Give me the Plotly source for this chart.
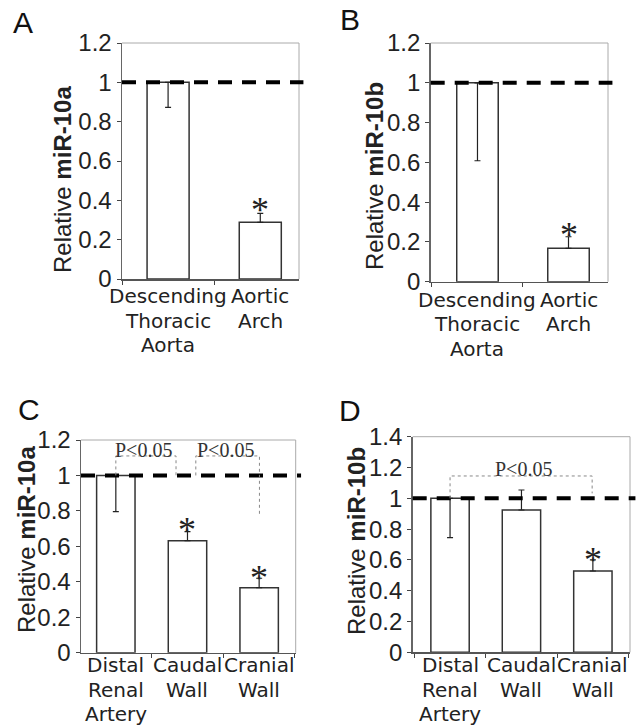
import plotly.graph_objects as go

# ---------------- data ----------------
A_cats = ["Descending<br>Thoracic<br>Aorta", "Aortic<br>Arch"]
A_vals = [1.0, 0.288]
A_err_minus = [0.127, 0.0]
A_err_plus = [0.0, 0.046]

B_cats = ["Descending<br>Thoracic<br>Aorta", "Aortic<br>Arch"]
B_vals = [1.0, 0.168]
B_err_minus = [0.392, 0.0]
B_err_plus = [0.0, 0.058]

C_cats = ["Distal<br>Renal<br>Artery", "Caudal<br>Wall", "Cranial<br>Wall"]
C_vals = [1.0, 0.632, 0.367]
C_err_minus = [0.204, 0.0, 0.0]
C_err_plus = [0.0, 0.051, 0.053]

D_cats = ["Distal<br>Renal<br>Artery", "Caudal<br>Wall", "Cranial<br>Wall"]
D_vals = [1.0, 0.924, 0.528]
D_err_minus = [0.256, 0.0, 0.0]
D_err_plus = [0.0, 0.130, 0.072]

y_titles = ["Relative <b>miR-10a</b>", "Relative <b>miR-10b</b>",
            "Relative <b>miR-10a</b>", "Relative <b>miR-10b</b>"]
panel_letters = ["A", "B", "C", "D"]
y_ticks_12 = [0, 0.2, 0.4, 0.6, 0.8, 1, 1.2]
y_ticks_14 = [0, 0.2, 0.4, 0.6, 0.8, 1, 1.2, 1.4]
sig_label = "P<0.05"

W, H = 642, 728
SANS = "Liberation Sans, Arial, sans-serif"
CAT_FONT = "DejaVu Sans, Liberation Sans, sans-serif"
SERIF = "Liberation Serif, Times New Roman, serif"

def px_x(p):
    return p / W

def px_y(p):
    return 1 - p / H

panels = [
    dict(cats=A_cats, vals=A_vals, em=A_err_minus, ep=A_err_plus,
         dom_x=(122, 299), dom_y=(43, 279), xr=[-0.5, 1.42], yr=[0, 1.2],
         ticks=y_ticks_12, bw=0.456, ytitle=(62, 180), letter=(23, 22),
         base=(303, 24.5)),
    dict(cats=B_cats, vals=B_vals, em=B_err_minus, ep=B_err_plus,
         dom_x=(430.7, 608), dom_y=(43, 281.7), xr=[-0.514, 1.434], yr=[0, 1.2],
         ticks=y_ticks_12, bw=0.456, ytitle=(374, 176), letter=(350, 19),
         base=(306.5, 24.5)),
    dict(cats=C_cats, vals=C_vals, em=C_err_minus, ep=C_err_plus,
         dom_x=(81, 295.7), dom_y=(440, 652.7), xr=[-0.486, 2.51], yr=[0, 1.2],
         ticks=y_ticks_12, bw=0.536, ytitle=(26, 540), letter=(29, 409),
         base=(672, 24.5)),
    dict(cats=D_cats, vals=D_vals, em=D_err_minus, ep=D_err_plus,
         dom_x=(412.7, 630), dom_y=(436.7, 652.3), xr=[-0.523, 2.52], yr=[0, 1.4],
         ticks=y_ticks_14, bw=0.537, ytitle=(356, 541), letter=(349.5, 410),
         base=(672, 24.5)),
]

fig = go.Figure()
layout = dict(width=W, height=H, margin=dict(l=0, r=0, t=0, b=0, autoexpand=False),
              paper_bgcolor="white", plot_bgcolor="white", showlegend=False,
              hovermode=False)
shapes = []
annotations = []

for i, p in enumerate(panels):
    n = "" if i == 0 else str(i + 1)
    xa, ya = "x" + n, "y" + n
    fig.add_trace(go.Bar(
        x=list(range(len(p["cats"]))), y=p["vals"], width=p["bw"], xaxis=xa, yaxis=ya,
        marker=dict(color="white", line=dict(color="#333333", width=1.5)),
        error_y=dict(type="data", symmetric=False, array=p["ep"],
                     arrayminus=p["em"], color="#222222", thickness=1.2, width=3),
        hoverinfo="skip"))
    ncat = len(p["cats"])
    layout["xaxis" + n] = dict(
        domain=[px_x(p["dom_x"][0]), px_x(p["dom_x"][1])], anchor=ya,
        range=p["xr"], tickmode="array",
        tickvals=[k - 0.5 for k in range(ncat + 1)], showticklabels=False,
        ticks="outside", ticklen=4, tickcolor="#444", showline=True,
        linecolor="#555555", linewidth=1.5, showgrid=False, zeroline=False,
        automargin=False, fixedrange=True)
    layout["yaxis" + n] = dict(
        domain=[px_y(p["dom_y"][1]), px_y(p["dom_y"][0])], anchor=xa,
        range=p["yr"], tickvals=p["ticks"], ticks="outside", ticklen=4,
        tickcolor="#444", showline=True, linecolor="#666666", linewidth=1.5,
        showgrid=False, zeroline=False, automargin=False,
        tickfont=dict(family=SANS, size=24, color="#222"), fixedrange=True)
    # category labels, one annotation per line
    b0, step = p["base"]
    for k, cat in enumerate(p["cats"]):
        for j, line in enumerate(cat.split("<br>")):
            annotations.append(dict(
                text=line, xref=xa, yref="paper", x=k,
                y=px_y(b0 + j * step - 7), xanchor="center", yanchor="middle",
                showarrow=False, font=dict(family=CAT_FONT, size=20, color="#222")))
    # top and right plot-area border
    shapes.append(dict(type="line", xref=xa + " domain", yref=ya + " domain",
                       x0=0, x1=1, y0=1, y1=1, line=dict(color="#aaaaaa", width=1)))
    shapes.append(dict(type="line", xref=xa + " domain", yref=ya + " domain",
                       x0=1, x1=1, y0=0, y1=1, line=dict(color="#aaaaaa", width=1)))
    # dashed reference line at 1
    shapes.append(dict(type="line", xref=xa + " domain", yref=ya,
                       x0=0, x1=1.025, y0=1, y1=1,
                       line=dict(color="black", width=4, dash="14px,10px")))
    # y title
    annotations.append(dict(text=y_titles[i], xref="paper", yref="paper",
                            x=px_x(p["ytitle"][0]), y=px_y(p["ytitle"][1]),
                            xanchor="center", yanchor="middle", textangle=-90,
                            showarrow=False,
                            font=dict(family=SANS, size=24, color="#222")))
    # panel letter
    annotations.append(dict(text=panel_letters[i], xref="paper", yref="paper",
                            x=px_x(p["letter"][0]), y=px_y(p["letter"][1]),
                            xanchor="center", yanchor="middle", showarrow=False,
                            font=dict(family=SANS, size=30, color="#111")))

# asterisks (panel, x index, y)
stars = [("", 1, 0.385), ("2", 1, 0.272), ("3", 1, 0.730), ("3", 2, 0.463), ("4", 2, 0.643)]
for n, xi, yv in stars:
    annotations.append(dict(text="*", xref="x" + n, yref="y" + n, x=xi, y=yv,
                            xanchor="center", yanchor="middle", yshift=-7,
                            showarrow=False,
                            font=dict(family=SERIF, size=36, color="#222")))

# significance brackets
dot = dict(color="#888888", width=1, dash="dot")
def bracket(n, x0, x1, ytop, yl, yr):
    shapes.append(dict(type="path", xref="x" + n, yref="y" + n,
                       path=f"M {x0},{yl} L {x0},{ytop} L {x1},{ytop} L {x1},{yr}",
                       line=dot))

bracket("3", 0, 0.84, 1.11, 1.0, 1.0)
bracket("3", 1.116, 2.004, 1.11, 1.0, 0.767)
bracket("4", 0, 1.99, 1.145, 1.0, 1.032)
for n, xc, yb in [("3", 0.384, 1.068), ("3", 1.525, 1.068), ("4", 1.03, 1.106)]:
    annotations.append(dict(text=sig_label, xref="x" + n, yref="y" + n, x=xc, y=yb,
                            xanchor="center", yanchor="bottom", showarrow=False,
                            font=dict(family=SERIF, size=20, color="#333")))

layout["shapes"] = shapes
layout["annotations"] = annotations
fig.update_layout(**layout)
fig.write_html("out.html", config={"displayModeBar": False, "staticPlot": True},
               post_script="document.body.style.margin='0';document.body.style.overflow='hidden';")
